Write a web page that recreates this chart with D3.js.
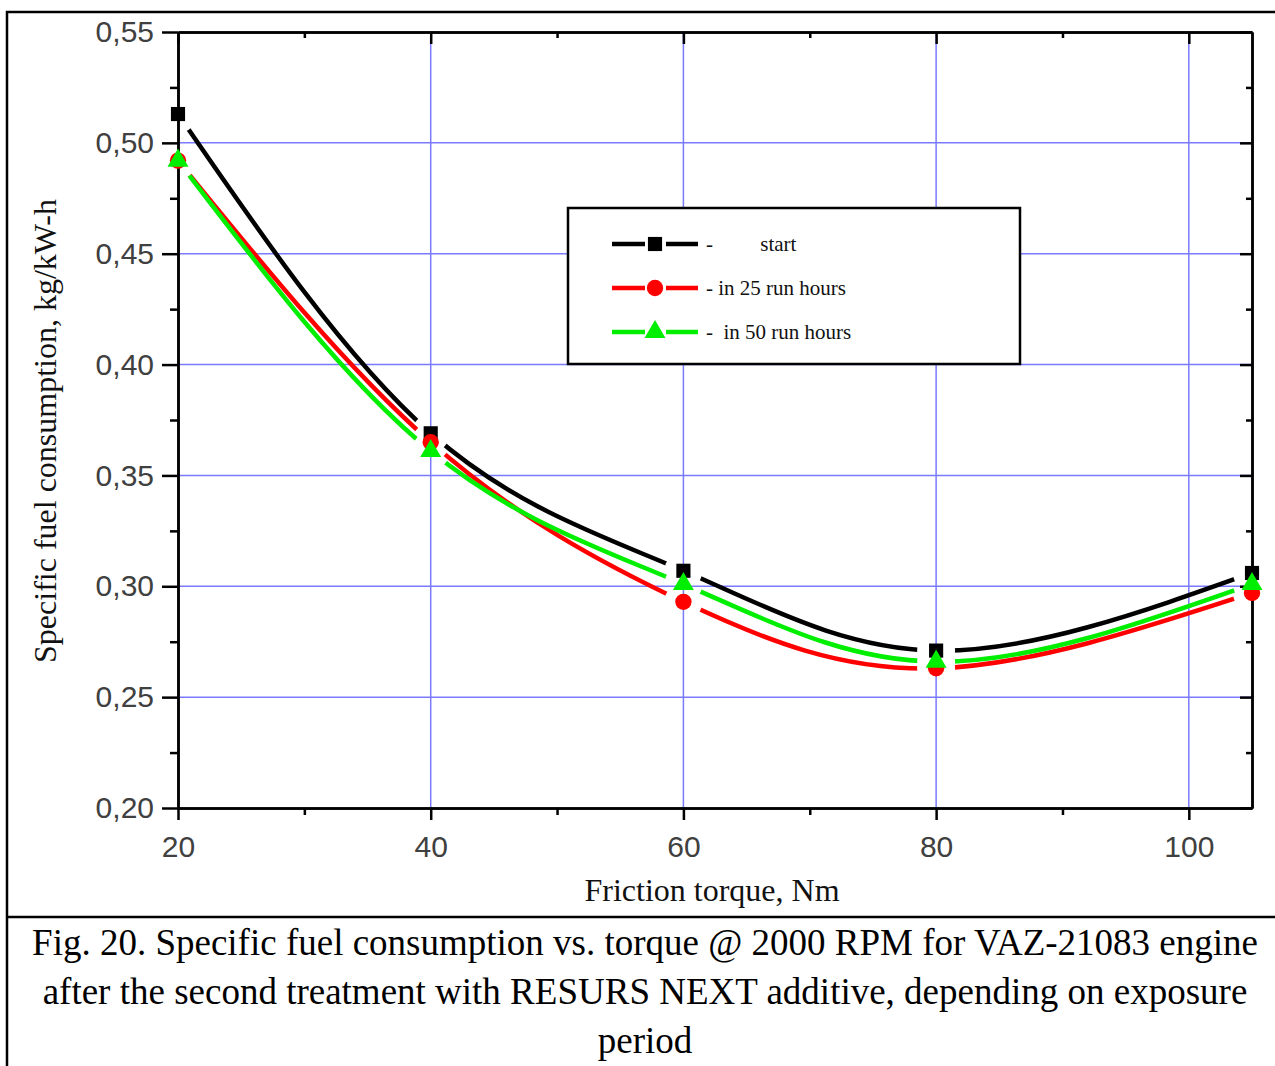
<!DOCTYPE html>
<html>
<head>
<meta charset="utf-8">
<script src="https://cdn.jsdelivr.net/npm/d3@7"></script>
<style>
  body { margin: 0; background: #fff; }
  svg { display: block; }
</style>
</head>
<body>
<div id="container"></div>
<script>
let w = 1275;
let h = 1066;

// data
let torque = [20, 40, 60, 80, 105];
let startVals = [0.513, 0.369, 0.307, 0.271, 0.306];
let run25Vals = [0.492, 0.365, 0.293, 0.263, 0.297];
let run50Vals = [0.492, 0.361, 0.301, 0.266, 0.301];
let seriesNames = ["start", "in 25 run hours", "in 50 run hours"];
let legendLabels = ["-         start", "- in 25 run hours", "-  in 50 run hours"];
let xTicks = [20, 40, 60, 80, 100];
let yTicks = [0.20, 0.25, 0.30, 0.35, 0.40, 0.45, 0.50, 0.55];
let captionLines = [
  "Fig. 20. Specific fuel consumption vs. torque @ 2000 RPM for VAZ-21083 engine",
  "after the second treatment with RESURS NEXT additive, depending on exposure",
  "period"
];

let series = [
  {name: seriesNames[0], values: startVals, color: "#000000", symbol: d3.symbolSquare, size: 200},
  {name: seriesNames[1], values: run25Vals, color: "#ff0000", symbol: d3.symbolCircle, size: 210},
  {name: seriesNames[2], values: run50Vals, color: "#00ee00", symbol: d3.symbolTriangle, size: 190}
];

let viz = d3.select("#container")
  .append("svg")
  .attr("width", w)
  .attr("height", h);

// outer frame (runs off the right and bottom edges) + caption separator
viz.append("rect")
  .attr("x", 7).attr("y", 12)
  .attr("width", 1300).attr("height", 1100)
  .attr("fill", "none").attr("stroke", "#000").attr("stroke-width", 2.5);
viz.append("line")
  .attr("x1", 7).attr("x2", 1275).attr("y1", 917).attr("y2", 917)
  .attr("stroke", "#000").attr("stroke-width", 2.5);

let x = d3.scaleLinear().domain([20, 105]).range([178, 1252]);
let y = d3.scaleLinear().domain([0.20, 0.55]).range([808, 32]);

// grid
let grid = viz.append("g");
grid.selectAll(".vgrid").data(xTicks.filter(d => d > 20)).enter()
  .append("line")
  .attr("x1", d => x(d)).attr("x2", d => x(d))
  .attr("y1", y(0.55)).attr("y2", y(0.20))
  .attr("stroke", "#7a7aff").attr("stroke-width", 1.5);
grid.selectAll(".hgrid").data(yTicks.filter(d => d > 0.2 && d < 0.55)).enter()
  .append("line")
  .attr("x1", x(20)).attr("x2", x(105))
  .attr("y1", d => y(d)).attr("y2", d => y(d))
  .attr("stroke", "#7a7aff").attr("stroke-width", 1.5);

// axes
let fmt = d => d3.format(".2f")(d).replace(".", ",");
let xMinor = d3.range(30, 105, 20);
let yMinor = d3.range(0.225, 0.55, 0.05);

function styleAxis(g) {
  g.select(".domain").attr("stroke", "#000").attr("stroke-width", 2.5);
  g.selectAll(".tick line").attr("stroke", "#000").attr("stroke-width", 2.5);
  g.selectAll("text")
    .attr("font-family", "Liberation Sans, Arial, sans-serif")
    .attr("font-size", 30)
    .attr("fill", "#404040");
}

viz.append("g").attr("transform", `translate(0,${y(0.20)})`)
  .call(d3.axisBottom(x).tickValues(xTicks).tickSize(12).tickPadding(16).tickSizeOuter(0))
  .call(styleAxis);
viz.append("g").attr("transform", `translate(0,${y(0.20)})`)
  .call(d3.axisBottom(x).tickValues(xMinor).tickSize(7).tickFormat("").tickSizeOuter(0))
  .call(styleAxis);

viz.append("g").attr("transform", `translate(${x(20)},0)`)
  .call(d3.axisLeft(y).tickValues(yTicks).tickSize(16).tickPadding(8).tickFormat(fmt).tickSizeOuter(0))
  .call(styleAxis);
viz.append("g").attr("transform", `translate(${x(20)},0)`)
  .call(d3.axisLeft(y).tickValues(yMinor).tickSize(8).tickFormat("").tickSizeOuter(0))
  .call(styleAxis);

viz.append("g").attr("transform", `translate(0,${y(0.55)})`)
  .call(d3.axisBottom(x).tickValues(xTicks).tickSize(12).tickFormat("").tickSizeOuter(0))
  .call(styleAxis);
viz.append("g").attr("transform", `translate(0,${y(0.55)})`)
  .call(d3.axisBottom(x).tickValues(xMinor).tickSize(6).tickFormat("").tickSizeOuter(0))
  .call(styleAxis);

viz.append("g").attr("transform", `translate(${x(105)},0)`)
  .call(d3.axisLeft(y).tickValues(yTicks).tickSize(12).tickFormat("").tickSizeOuter(0))
  .call(styleAxis);
viz.append("g").attr("transform", `translate(${x(105)},0)`)
  .call(d3.axisLeft(y).tickValues(yMinor).tickSize(6).tickFormat("").tickSizeOuter(0))
  .call(styleAxis);

// axis titles
viz.append("text")
  .attr("x", 712).attr("y", 901)
  .attr("text-anchor", "middle")
  .attr("font-family", "Liberation Serif, Times New Roman, serif")
  .attr("font-size", 32)
  .attr("fill", "#111")
  .text("Friction torque, Nm");
viz.append("text")
  .attr("transform", "translate(56,431) rotate(-90)")
  .attr("text-anchor", "middle")
  .attr("font-family", "Liberation Serif, Times New Roman, serif")
  .attr("font-size", 32)
  .attr("fill", "#111")
  .text("Specific fuel consumption, kg/kW-h");

// curves, with a gap around each symbol
let defs = viz.append("defs");
let line = d3.line()
  .x(d => x(d[0]))
  .y(d => y(d[1]))
  .curve(d3.curveNatural);

series.forEach((s, i) => {
  let pts = torque.map((t, j) => [t, s.values[j]]);
  let mask = defs.append("mask").attr("id", "gap" + i)
    .attr("maskUnits", "userSpaceOnUse")
    .attr("x", 0).attr("y", 0).attr("width", w).attr("height", h);
  mask.append("rect").attr("width", w).attr("height", h).attr("fill", "#fff");
  mask.selectAll("circle").data(pts).enter()
    .append("circle")
    .attr("cx", d => x(d[0])).attr("cy", d => y(d[1]))
    .attr("r", 19).attr("fill", "#000");

  viz.append("path")
    .datum(pts)
    .attr("d", line)
    .attr("fill", "none")
    .attr("stroke", s.color)
    .attr("stroke-width", 4.5)
    .attr("mask", `url(#gap${i})`);
});

series.forEach(s => {
  let pts = torque.map((t, j) => [t, s.values[j]]);
  viz.selectAll(null).data(pts).enter()
    .append("path")
    .attr("transform", d => `translate(${x(d[0])},${y(d[1])})`)
    .attr("d", d3.symbol().type(s.symbol).size(s.size))
    .attr("fill", s.color);
});

// legend
let legend = viz.append("g");
legend.append("rect")
  .attr("x", 568).attr("y", 208)
  .attr("width", 452).attr("height", 156)
  .attr("fill", "#fff").attr("stroke", "#000").attr("stroke-width", 2.5);

series.forEach((s, i) => {
  let ly = 244 + i * 44;
  legend.append("line").attr("x1", 612).attr("x2", 645).attr("y1", ly).attr("y2", ly)
    .attr("stroke", s.color).attr("stroke-width", 4.5);
  legend.append("line").attr("x1", 666).attr("x2", 698).attr("y1", ly).attr("y2", ly)
    .attr("stroke", s.color).attr("stroke-width", 4.5);
  legend.append("path")
    .attr("transform", `translate(655,${ly})`)
    .attr("d", d3.symbol().type(s.symbol).size(s.size))
    .attr("fill", s.color);
  legend.append("text")
    .attr("x", 706).attr("y", ly + 7)
    .attr("font-family", "Liberation Serif, Times New Roman, serif")
    .attr("font-size", 21)
    .attr("fill", "#111")
    .attr("xml:space", "preserve")
    .style("white-space", "pre")
    .text(legendLabels[i]);
});

// caption
viz.selectAll(".caption").data(captionLines).enter()
  .append("text")
  .attr("class", "caption")
  .attr("x", 645)
  .attr("y", (d, i) => 955 + i * 49)
  .attr("text-anchor", "middle")
  .attr("font-family", "Liberation Serif, Times New Roman, serif")
  .attr("font-size", 37)
  .attr("fill", "#000")
  .text(d => d);
</script>
</body>
</html>
